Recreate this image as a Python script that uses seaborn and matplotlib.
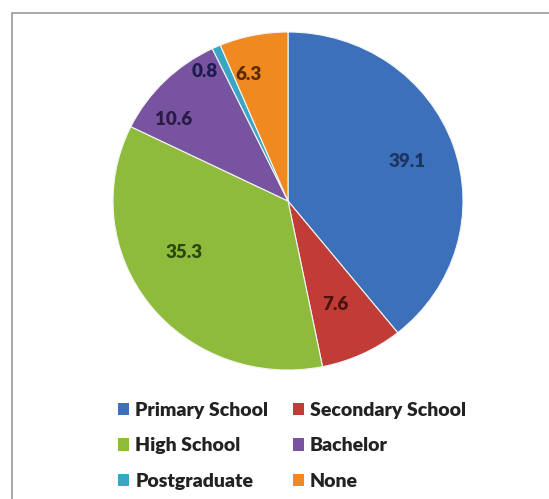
import matplotlib
matplotlib.use("Agg")
import matplotlib.pyplot as plt
import seaborn as sns
import numpy as np
from matplotlib.patches import Patch, Rectangle

categories = ["Primary School", "Secondary School", "High School", "Bachelor", "Postgraduate", "None"]
values = [39.1, 7.6, 35.3, 10.6, 0.8, 6.3]
value_labels = ["39.1", "7.6", "35.3", "10.6", "0.8", "6.3"]

colors = ["#3c70bb", "#c13c36", "#8fbb3c", "#7854a0", "#3aa6c6", "#f0891f"]
text_colors = ["#1c3560", "#4a1410", "#2c460c", "#2a1a45", "#1b1b50", "#5a2a05"]
label_radius = [0.72, 0.67, 0.67, 0.81, 0.90, 0.78]
label_angle_shift = [-0.7, -1.0, -10.5, 8.8, 7.6, 5.6]

sns.set_theme(style="white")
plt.rcParams["font.family"] = ["Lato", "DejaVu Sans"]

fig = plt.figure(figsize=(5.49, 4.99), dpi=100)
W, H = 549, 499
cx, cy, rx, ry = 288, 201, 175, 169
ax = fig.add_axes([(cx - rx) / W, (H - cy - ry) / H, 2 * rx / W, 2 * ry / H])

wedges, _ = ax.pie(values, colors=colors, startangle=90, counterclock=False,
                   radius=1.0, wedgeprops=dict(edgecolor="#f4f4f4", linewidth=0.8))
ax.set_aspect("auto")
ax.set_xlim(-1, 1)
ax.set_ylim(-1, 1)
ax.axis("off")

for w, lab, r, da, tc in zip(wedges, value_labels, label_radius, label_angle_shift, text_colors):
    ang = np.deg2rad((w.theta1 + w.theta2) / 2 + da)
    ax.text(r * np.cos(ang), r * np.sin(ang), lab, ha="center", va="center",
            fontsize=13.5, fontweight="heavy", color=tc)

order = [0, 2, 4, 1, 3, 5]
handles = [Patch(facecolor=colors[i], edgecolor="none") for i in order]
labels = [categories[i] for i in order]
fig.legend(handles, labels, loc="upper left", bbox_to_anchor=(108 / W, 1 - 392 / H),
           ncol=2, frameon=False, prop=dict(weight="heavy", size=14),
           handlelength=0.6, handleheight=0.6, handletextpad=0.3,
           columnspacing=1.25, labelspacing=0.95, borderpad=0, labelcolor="#222222")

fig.patches.append(Rectangle((12 / W, -0.05), 1.2, 1 - 13 / H + 0.05,
                             transform=fig.transFigure, fill=False,
                             edgecolor="#9a9a9a", linewidth=1.2))

fig.savefig("out.png", dpi=100, facecolor="white")
